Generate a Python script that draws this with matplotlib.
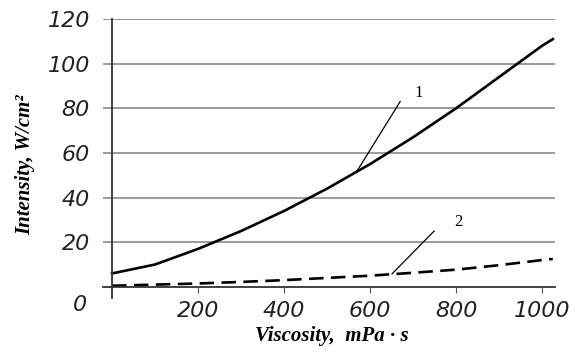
import numpy as np
import matplotlib
matplotlib.use("Agg")
import matplotlib.pyplot as plt

# values
viscosity = [0, 100, 200, 300, 400, 500, 600, 700, 800, 900, 1000, 1025]
intensity_1 = [6, 10, 17, 25, 34, 44, 55, 67, 80, 94, 108, 111]
intensity_2 = [0.5, 1.0, 1.5, 2.2, 3.0, 4.0, 5.0, 6.3, 7.7, 9.7, 12.0, 12.5]

x_ticks = [200, 400, 600, 800, 1000]
y_ticks = [20, 40, 60, 80, 100, 120]

fig = plt.figure(figsize=(5.75, 3.54), dpi=100)
# axes box starts a little left of the y axis so the x axis pokes out
ax = fig.add_axes([103 / 575, 1 - 298 / 354, (555 - 103) / 575, (298 - 19) / 354])
ax.set_xlim(-21, 1030)
ax.set_ylim(-5, 120)

for s in ["top", "right"]:
    ax.spines[s].set_visible(False)
for s in ["left", "bottom"]:
    ax.spines[s].set_position(("data", 0))
    ax.spines[s].set_linewidth(1.3)
    ax.spines[s].set_color("#333333")

tick_font = dict(fontsize=16, fontstyle="italic", color="#222222")
ax.set_yticks(y_ticks, [str(v) for v in y_ticks], **tick_font)
ax.set_xticks(x_ticks, [str(v) for v in x_ticks], **tick_font)
ax.yaxis.grid(True, color="#8a8a8a", linewidth=1.2)
ax.set_axisbelow(True)
ax.tick_params(axis="y", length=0, pad=16)
ax.tick_params(axis="x", length=4, width=0.8, color="#555555", direction="out", pad=6)

ax.text(-74, -8, "0", ha="center", va="center", clip_on=False, **tick_font)

ax.plot(viscosity, intensity_1, color="black", linewidth=1.9)
ax.plot(viscosity, intensity_2, color="black", linewidth=1.9, dashes=(5.5, 2.8))

# leader lines and curve numbers
ax.plot([570, 670], [52, 83], color="black", linewidth=0.9)
ax.text(712, 87, "1", fontsize=12, family="Liberation Serif", ha="center", va="center")
ax.plot([651, 749], [5.8, 25], color="black", linewidth=0.9)
ax.text(805, 29, "2", fontsize=12, family="Liberation Serif", ha="center", va="center")

label_font = dict(family="Liberation Serif", fontweight="bold", fontstyle="italic",
                  fontsize=15, ha="center", va="center")
fig.text(25 / 575, 1 - 165 / 354, "Intensity, W/cm\u00b2", rotation=90, **label_font)
fig.text(332 / 575, 1 - 336 / 354, "Viscosity,  mPa \u00b7 s", **label_font)

fig.savefig("out.png", dpi=100)
